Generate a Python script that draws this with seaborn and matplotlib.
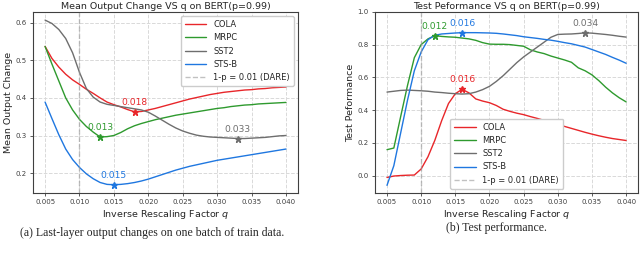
import numpy as np
import pandas as pd
import matplotlib
matplotlib.use("Agg")
import matplotlib.pyplot as plt
import seaborn as sns

# ---------------- data ----------------
q = [0.005, 0.006, 0.007, 0.008, 0.009, 0.010, 0.011, 0.012, 0.013, 0.014,
     0.015, 0.016, 0.017, 0.018, 0.019, 0.020, 0.021, 0.022, 0.023, 0.024,
     0.025, 0.026, 0.027, 0.028, 0.029, 0.030, 0.031, 0.032, 0.033, 0.034,
     0.035, 0.036, 0.037, 0.038, 0.039, 0.040]

series_names = ["COLA", "MRPC", "SST2", "STS-B"]

# (a) mean output change
out_cola = [0.537, 0.505, 0.482, 0.463, 0.448, 0.436, 0.423, 0.412, 0.400, 0.389,
            0.382, 0.376, 0.369, 0.363, 0.364, 0.368, 0.372, 0.377, 0.382, 0.387,
            0.392, 0.397, 0.401, 0.405, 0.409, 0.412, 0.415, 0.417, 0.419, 0.421,
            0.422, 0.424, 0.425, 0.427, 0.428, 0.429]
out_mrpc = [0.537, 0.490, 0.445, 0.400, 0.368, 0.343, 0.324, 0.309, 0.296, 0.297,
            0.300, 0.308, 0.318, 0.326, 0.332, 0.337, 0.342, 0.346, 0.350, 0.354,
            0.357, 0.360, 0.363, 0.366, 0.369, 0.372, 0.374, 0.377, 0.379, 0.381,
            0.382, 0.384, 0.385, 0.386, 0.387, 0.388]
out_sst2 = [0.607, 0.598, 0.582, 0.558, 0.520, 0.468, 0.425, 0.402, 0.389, 0.383,
            0.380, 0.377, 0.374, 0.371, 0.368, 0.362, 0.352, 0.341, 0.330, 0.320,
            0.312, 0.306, 0.301, 0.298, 0.296, 0.295, 0.294, 0.293, 0.292, 0.292,
            0.293, 0.294, 0.295, 0.297, 0.299, 0.300]
out_stsb = [0.389, 0.345, 0.302, 0.264, 0.236, 0.215, 0.198, 0.185, 0.175, 0.170,
            0.169, 0.170, 0.172, 0.175, 0.179, 0.184, 0.190, 0.196, 0.202, 0.208,
            0.213, 0.218, 0.222, 0.226, 0.230, 0.234, 0.237, 0.240, 0.243, 0.246,
            0.249, 0.252, 0.255, 0.258, 0.261, 0.264]

# (b) test performance
perf_cola = [-0.012, -0.003, 0.000, 0.002, 0.003, 0.040, 0.115, 0.215, 0.335, 0.440,
             0.500, 0.527, 0.505, 0.468, 0.455, 0.445, 0.428, 0.405, 0.392, 0.381,
             0.372, 0.360, 0.349, 0.337, 0.325, 0.313, 0.300, 0.288, 0.276, 0.264,
             0.253, 0.243, 0.234, 0.226, 0.220, 0.214]
perf_mrpc = [0.158, 0.168, 0.360, 0.550, 0.720, 0.800, 0.835, 0.855, 0.850, 0.847,
             0.845, 0.840, 0.835, 0.826, 0.812, 0.803, 0.802, 0.802, 0.800, 0.795,
             0.790, 0.768, 0.755, 0.745, 0.730, 0.718, 0.706, 0.692, 0.658, 0.640,
             0.615, 0.580, 0.540, 0.505, 0.475, 0.450]
perf_sst2 = [0.510, 0.515, 0.520, 0.522, 0.520, 0.518, 0.515, 0.510, 0.507, 0.503,
             0.500, 0.498, 0.500, 0.510, 0.525, 0.545, 0.575, 0.610, 0.650, 0.690,
             0.725, 0.755, 0.785, 0.815, 0.845, 0.862, 0.864, 0.865, 0.868, 0.872,
             0.870, 0.866, 0.862, 0.857, 0.851, 0.846]
perf_stsb = [-0.060, 0.060, 0.260, 0.460, 0.640, 0.755, 0.830, 0.857, 0.865, 0.868,
             0.871, 0.873, 0.873, 0.873, 0.872, 0.871, 0.869, 0.865, 0.860, 0.855,
             0.848, 0.843, 0.838, 0.832, 0.827, 0.820, 0.812, 0.805, 0.795, 0.785,
             0.770, 0.755, 0.740, 0.722, 0.705, 0.686]

dare_q = 0.01
x_ticks = [0.005, 0.010, 0.015, 0.020, 0.025, 0.030, 0.035, 0.040]
left_yticks = [0.2, 0.3, 0.4, 0.5, 0.6]
right_yticks = [0.0, 0.2, 0.4, 0.6, 0.8, 1.0]

colors = {"COLA": "#e8262a", "MRPC": "#2e9a2e", "SST2": "#6e6e6e", "STS-B": "#1f77e0"}

# ---------------- style ----------------
sns.set_theme(style="whitegrid", rc={
    "grid.linestyle": "--",
    "grid.color": "0.85",
    "grid.linewidth": 0.7,
    "axes.edgecolor": "0.25",
    "axes.linewidth": 0.8,
    "xtick.bottom": True,
    "ytick.left": True,
    "xtick.major.size": 2.5,
    "ytick.major.size": 2.5,
    "xtick.major.width": 0.6,
    "ytick.major.width": 0.6,
    "xtick.color": "0.25",
    "ytick.color": "0.25",
})
plt.rcParams["font.family"] = ["DejaVu Sans"]

fig = plt.figure(figsize=(6.4, 2.64), dpi=100)
axL = fig.add_axes([0.0516, 0.269, 0.414, 0.686])
axR = fig.add_axes([0.586, 0.269, 0.411, 0.686])

left_data = {"COLA": out_cola, "MRPC": out_mrpc, "SST2": out_sst2, "STS-B": out_stsb}
right_data = {"COLA": perf_cola, "MRPC": perf_mrpc, "SST2": perf_sst2, "STS-B": perf_stsb}

def draw(ax, data, best):
    for name in series_names:
        vals = np.asarray(data[name])
        sns.lineplot(x=q, y=vals, color=colors[name], label=name, ax=ax,
                     linewidth=1.0)
    ax.axvline(dare_q, color="0.6", linestyle="--", linewidth=1.0, alpha=0.6,
               label="1-p = 0.01 (DARE)")
    for name in series_names:
        vals = np.asarray(data[name])
        i = int(np.argmin(vals)) if best == "min" else int(np.argmax(vals))
        ax.plot([q[i]], [vals[i]], marker="*", color=colors[name], markersize=5,
                linestyle="none")
        ax.annotate(f"{q[i]:.3f}", (q[i], vals[i]), xytext=(0, 3.5),
                    textcoords="offset points", ha="center", va="bottom",
                    color=colors[name], fontsize=6.6)
    ax.set_xticks(x_ticks)
    ax.set_xticklabels([f"{t:.3f}" for t in x_ticks])
    ax.tick_params(axis="both", labelsize=5, pad=2)
    ax.set_xlabel("Inverse Rescaling Factor $q$", fontsize=6.8, labelpad=2)

draw(axL, left_data, "min")
axL.set_yticks(left_yticks)
axL.set_yticklabels([f"{t:.1f}" for t in left_yticks])
axL.set_title("Mean Output Change VS q on BERT(p=0.99)", fontsize=6.8, pad=2)
axL.set_ylabel("Mean Output Change", fontsize=6.8, labelpad=2)
axL.legend(loc="upper right", fontsize=6, frameon=True, handlelength=2.6,
           labelspacing=0.5, borderpad=0.5, framealpha=1.0, edgecolor="0.8")

draw(axR, right_data, "max")
axR.set_ylim(top=1.0)
axR.set_yticks(right_yticks)
axR.set_yticklabels([f"{t:.1f}" for t in right_yticks])
axR.set_title("Test Peformance VS q on BERT(p=0.99)", fontsize=6.8, pad=2)
axR.set_ylabel("Test Peformance", fontsize=6.8, labelpad=2)
axR.legend(loc="lower center", fontsize=6, frameon=True, handlelength=2.6,
           labelspacing=0.5, borderpad=0.5, framealpha=1.0, edgecolor="0.8")

fig.text(0.238, 0.117, "(a) Last-layer output changes on one batch of train data.",
         ha="center", va="center", fontsize=8.5, family="Liberation Serif")
fig.text(0.776, 0.135, "(b) Test performance.",
         ha="center", va="center", fontsize=8.5, family="Liberation Serif")

fig.savefig("out.png", dpi=100)
